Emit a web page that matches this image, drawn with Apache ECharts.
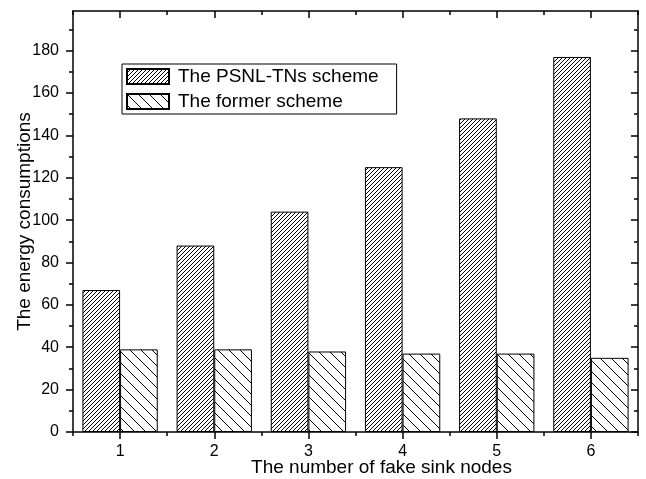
<!DOCTYPE html>
<html>
<head>
<meta charset="utf-8">
<script src="https://cdn.jsdelivr.net/npm/echarts@6/dist/echarts.min.js"></script>
<style>
  html, body { margin: 0; padding: 0; background: #fff; }
  #chart { width: 646px; height: 479px; }
</style>
</head>
<body>
<div id="chart"></div>
<script>
// Number of fake sink nodes on the x axis
const categories = ['1', '2', '3', '4', '5', '6'];
// Energy consumption per scheme
const psnlValues = [67, 88, 104, 125, 148, 177];
const formerValues = [39, 39, 38, 37, 37, 35];
const seriesNames = ['The PSNL-TNs scheme', 'The former scheme'];
// Y axis tick positions (major labelled, minor unlabelled)
const yMajorTicks = [0, 20, 40, 60, 80, 100, 120, 140, 160, 180];
const yMinorTicks = [10, 30, 50, 70, 90, 110, 130, 150, 170, 190];
const yMax = 198.7;

const FONT = 'Liberation Sans, Arial, sans-serif';
const black = '#000';
const lineW = 1.5;

// Hatch tiles used as bar fills
function hatchTile(size, forward) {
  const c = document.createElement('canvas');
  c.width = size; c.height = size;
  const g = c.getContext('2d');
  g.fillStyle = '#fff';
  g.fillRect(0, 0, size, size);
  g.strokeStyle = '#000';
  g.lineWidth = 1;
  g.beginPath();
  if (forward) {
    for (const o of [-size, 0, size]) {
      g.moveTo(o - 1, size + 1);
      g.lineTo(o + size + 1, -1);
    }
  } else {
    for (const o of [-size, 0, size]) {
      g.moveTo(o - 1, -1);
      g.lineTo(o + size + 1, size + 1);
    }
  }
  g.stroke();
  return c;
}

const densePattern = { image: hatchTile(4, true), repeat: 'repeat' };
const sparsePattern = { image: hatchTile(11, false), repeat: 'repeat' };

const axisLineStyle = { color: black, width: lineW };

function catAxis(pos, major, inside, showLine) {
  return {
    type: 'category',
    data: categories,
    position: pos,
    boundaryGap: true,
    axisLine: { show: showLine, onZero: false, lineStyle: axisLineStyle },
    axisTick: { show: true, alignWithLabel: major, interval: 0, inside: inside, length: major ? 7 : 4, lineStyle: axisLineStyle },
    axisLabel: { show: false },
    splitLine: { show: false }
  };
}

function valAxis(pos, ticks, major, inside, showLine) {
  return {
    type: 'value',
    position: pos,
    min: 0,
    max: yMax,
    axisLine: { show: showLine, onZero: false, lineStyle: axisLineStyle },
    axisTick: { show: true, customValues: ticks, inside: inside, length: major ? 7 : 4, lineStyle: axisLineStyle },
    axisLabel: { show: false },
    splitLine: { show: false }
  };
}

const xBottom = catAxis('bottom', true, false, true);
xBottom.axisLabel = { show: true, fontSize: 16, color: black, fontFamily: FONT, margin: 12 };
xBottom.name = 'The number of fake sink nodes';
xBottom.nameLocation = 'middle';
xBottom.nameGap = 26;
xBottom.nameMoveOverlap = false;
xBottom.nameTextStyle = { fontSize: 19, color: black, fontFamily: FONT, padding: [0, 0, 0, 52] };

const yLeft = valAxis('left', yMajorTicks, true, false, true);
yLeft.axisLabel = { show: true, customValues: yMajorTicks, fontSize: 16, color: black, fontFamily: FONT, margin: 14 };
yLeft.name = 'The energy consumptions';
yLeft.nameLocation = 'middle';
yLeft.nameGap = 39;
yLeft.nameMoveOverlap = false;
yLeft.nameTextStyle = { fontSize: 19, color: black, fontFamily: FONT };

const option = {
  animation: false,
  backgroundColor: '#fff',
  grid: { left: 73, right: 8, top: 11, bottom: 47, containLabel: false, outerBoundsMode: 'none' },
  legend: {
    orient: 'vertical',
    left: 122,
    top: 64,
    padding: [3, 18, 3, 4],
    itemGap: 6,
    itemWidth: 42,
    itemHeight: 15,
    borderColor: black,
    borderWidth: 1,
    borderRadius: 0,
    backgroundColor: '#fff',
    icon: 'rect',
    textStyle: { fontSize: 19, color: black, fontFamily: FONT, lineHeight: 19, padding: [0, 0, 0, 4] },
    data: seriesNames
  },
  xAxis: [
    xBottom,
    catAxis('bottom', false, false, false),
    catAxis('top', true, true, true),
    catAxis('top', false, true, false)
  ],
  yAxis: [
    yLeft,
    valAxis('left', yMinorTicks, false, false, false),
    valAxis('right', yMajorTicks, true, true, true),
    valAxis('right', yMinorTicks, false, true, false)
  ],
  series: [
    {
      name: seriesNames[0],
      type: 'bar',
      xAxisIndex: 0,
      yAxisIndex: 0,
      data: psnlValues,
      barWidth: '40%',
      barGap: '0%',
      itemStyle: { color: densePattern, borderColor: black, borderWidth: 1 }
    },
    {
      name: seriesNames[1],
      type: 'bar',
      xAxisIndex: 0,
      yAxisIndex: 0,
      data: formerValues,
      barWidth: '40%',
      barGap: '0%',
      itemStyle: { color: sparsePattern, borderColor: black, borderWidth: 1 }
    }
  ]
};

const chart = echarts.init(document.getElementById('chart'), null, { renderer: 'canvas' });
chart.setOption(option);
</script>
</body>
</html>
